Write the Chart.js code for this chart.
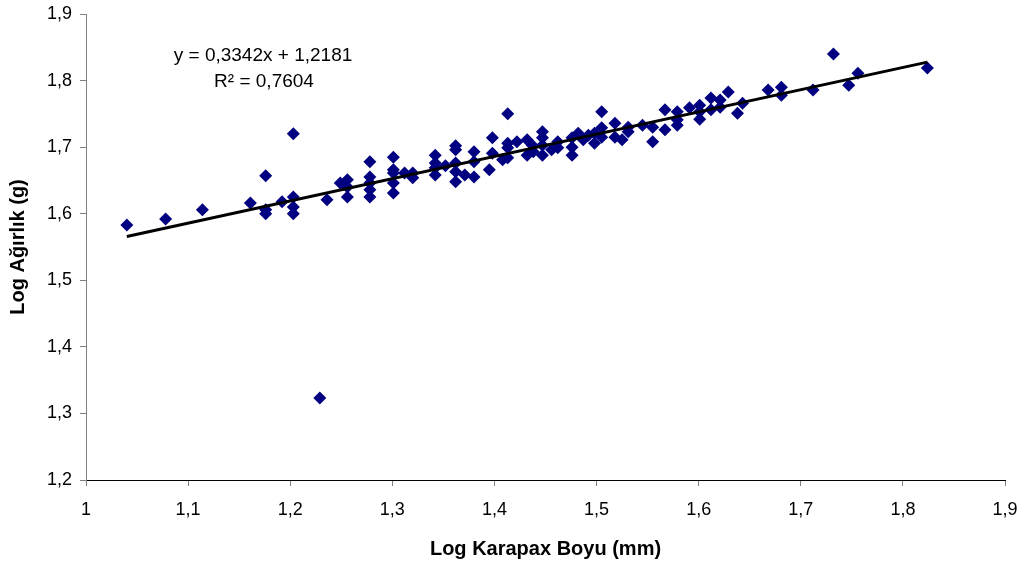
<!DOCTYPE html>
<html>
<head>
<meta charset="utf-8">
<script src="https://cdn.jsdelivr.net/npm/chart.js@4"></script>
<style>
  html, body { margin: 0; padding: 0; background: #fff; }
  #wrap { width: 1028px; height: 570px; position: relative; }
</style>
</head>
<body>
<div id="wrap"><canvas id="c" width="1028" height="570"></canvas></div>
<script>
// Log Karapax Boyu (mm)
const logLength = [
  1.040, 1.078, 1.114, 1.161, 1.176, 1.176, 1.176, 1.192, 1.203, 1.203,
  1.203, 1.203, 1.229, 1.236, 1.249, 1.256, 1.256, 1.256, 1.278, 1.278,
  1.278, 1.278, 1.278, 1.301, 1.301, 1.301, 1.301, 1.301, 1.312, 1.320,
  1.320, 1.342, 1.342, 1.342, 1.342, 1.352, 1.362, 1.362, 1.362, 1.362,
  1.362, 1.371, 1.380, 1.380, 1.380, 1.395, 1.398, 1.398, 1.408, 1.413,
  1.413, 1.413, 1.413, 1.422, 1.432, 1.432, 1.437, 1.438, 1.447, 1.447,
  1.447, 1.447, 1.456, 1.462, 1.462, 1.476, 1.476, 1.476, 1.482, 1.487,
  1.492, 1.498, 1.498, 1.505, 1.505, 1.505, 1.518, 1.518, 1.525, 1.531,
  1.531, 1.545, 1.555, 1.555, 1.567, 1.567, 1.579, 1.579, 1.579, 1.591,
  1.601, 1.601, 1.601, 1.612, 1.612, 1.621, 1.621, 1.629, 1.638, 1.643,
  1.668, 1.681, 1.681, 1.712, 1.732, 1.747, 1.756, 1.824
];
// Log Ağırlık (g)
const logWeight = [
  1.583, 1.592, 1.606, 1.616, 1.657, 1.606, 1.600, 1.618, 1.720, 1.625,
  1.610, 1.600, 1.323, 1.621, 1.646, 1.651, 1.640, 1.625, 1.678, 1.655,
  1.646, 1.636, 1.625, 1.685, 1.666, 1.661, 1.646, 1.631, 1.661, 1.661,
  1.654, 1.688, 1.676, 1.669, 1.658, 1.672, 1.702, 1.696, 1.676, 1.663,
  1.648, 1.658, 1.693, 1.678, 1.655, 1.666, 1.714, 1.691, 1.681, 1.750,
  1.706, 1.699, 1.684, 1.708, 1.711, 1.688, 1.703, 1.693, 1.723, 1.714,
  1.703, 1.688, 1.696, 1.708, 1.699, 1.714, 1.700, 1.688, 1.721, 1.711,
  1.718, 1.721, 1.706, 1.753, 1.729, 1.715, 1.736, 1.715, 1.711, 1.730,
  1.723, 1.733, 1.730, 1.708, 1.756, 1.726, 1.753, 1.741, 1.733, 1.759,
  1.763, 1.753, 1.742, 1.774, 1.756, 1.771, 1.760, 1.783, 1.751, 1.766,
  1.786, 1.790, 1.778, 1.786, 1.840, 1.793, 1.811, 1.819
];
const xTickLabels = ['1', '1,1', '1,2', '1,3', '1,4', '1,5', '1,6', '1,7', '1,8', '1,9'];
const yTickLabels = ['1,2', '1,3', '1,4', '1,5', '1,6', '1,7', '1,8', '1,9'];
const trendSlope = 0.3342;
const trendIntercept = 1.2181;
const equationLines = ['y = 0,3342x + 1,2181', 'R\u00B2 = 0,7604'];

const FONT = "'Liberation Sans', Arial, sans-serif";
const points = logLength.map((x, i) => ({ x: x, y: logWeight[i] }));
const xMin = Math.min(...logLength), xMax = Math.max(...logLength);
const trend = [
  { x: xMin, y: trendSlope * xMin + trendIntercept },
  { x: xMax, y: trendSlope * xMax + trendIntercept }
];

const equationPlugin = {
  id: 'equation',
  afterDatasetsDraw(chart) {
    const ctx = chart.ctx;
    ctx.save();
    ctx.fillStyle = '#000';
    ctx.font = '19px ' + FONT;
    ctx.textAlign = 'center';
    ctx.textBaseline = 'middle';
    ctx.fillText(equationLines[0], 263, 56);
    ctx.fillText(equationLines[1], 264, 82);
    ctx.restore();
  }
};

new Chart(document.getElementById('c'), {
  type: 'scatter',
  data: {
    datasets: [
      {
        label: 'data',
        data: points,
        pointStyle: 'rectRot',
        pointRadius: 6.5,
        pointHoverRadius: 6.5,
        backgroundColor: '#000080',
        borderColor: '#000080',
        borderWidth: 0,
        order: 2
      },
      {
        label: 'trend',
        type: 'line',
        data: trend,
        borderColor: '#000',
        borderWidth: 3,
        pointRadius: 0,
        fill: false,
        order: 1
      }
    ]
  },
  options: {
    responsive: false,
    animation: false,
    devicePixelRatio: 1,
    layout: { padding: { left: 0, right: 23, top: 14, bottom: 0 } },
    plugins: {
      legend: { display: false },
      tooltip: { enabled: false }
    },
    scales: {
      x: {
        type: 'linear',
        min: 1, max: 1.9,
        afterFit(s) { s.height = 90; s.paddingLeft = 0; s.paddingRight = 0; },
        ticks: {
          stepSize: 0.1,
          color: '#000',
          font: { family: FONT, size: 18 },
          padding: 13,
          maxRotation: 0,
          autoSkip: false,
          callback: (v, i) => xTickLabels[i]
        },
        grid: { drawOnChartArea: false, color: '#808080', tickLength: 6 },
        border: { color: '#000', width: 1 },
        title: {
          display: true,
          text: 'Log Karapax Boyu (mm)',
          color: '#000',
          font: { family: FONT, size: 20, weight: 'bold' },
          padding: { top: 0, bottom: 9 }
        }
      },
      y: {
        type: 'linear',
        min: 1.2, max: 1.9,
        afterFit(s) { s.width = 86; s.paddingTop = 0; s.paddingBottom = 0; },
        ticks: {
          stepSize: 0.1,
          color: '#000',
          font: { family: FONT, size: 18 },
          padding: 8,
          autoSkip: false,
          callback: (v, i) => yTickLabels[i]
        },
        grid: { drawOnChartArea: false, color: '#808080', tickLength: 6 },
        border: { color: '#808080', width: 1 },
        title: {
          display: true,
          text: 'Log Ağırlık (g)',
          color: '#000',
          font: { family: FONT, size: 20, weight: 'bold' },
          padding: { top: 6, bottom: 0 }
        }
      }
    }
  },
  plugins: [equationPlugin]
});
</script>
</body>
</html>
